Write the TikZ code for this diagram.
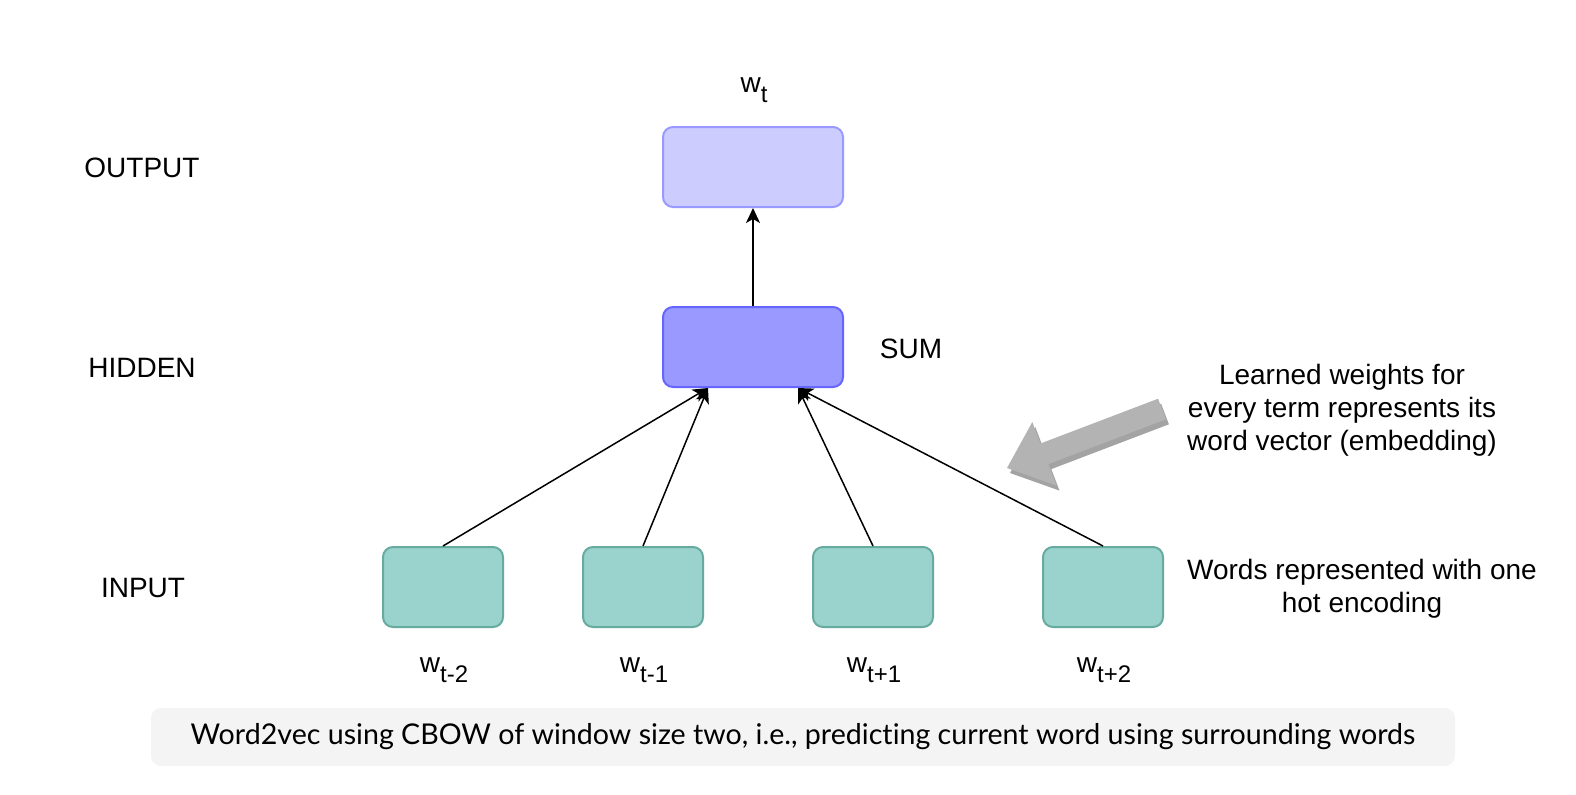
\documentclass[tikz,border=0pt]{standalone}
\usepackage{fontspec}
\setmainfont{Liberation Sans}
\newfontfamily\capfont[Ligatures=NoCommon]{Lato}
\usetikzlibrary{arrows.meta,positioning}
\definecolor{outfill}{HTML}{CCCCFF}
\definecolor{outdraw}{HTML}{9999FF}
\definecolor{hidfill}{HTML}{9999FF}
\definecolor{hiddraw}{HTML}{6666FF}
\definecolor{infill}{HTML}{9AD3CD}
\definecolor{indraw}{HTML}{67AB9F}
\definecolor{bigarrow}{HTML}{B3B3B3}
\definecolor{bigshadow}{HTML}{A3A3A3}
\definecolor{capfill}{HTML}{F4F4F4}
\newcommand{\wsub}[1]{w\raisebox{-5pt}{\fontsize{12}{14}\selectfont #1}}

\begin{document}
\begin{tikzpicture}[x=0.5pt,y=-0.5pt,
    every node/.style={font=\fontsize{14}{16.5}\selectfont},
    layerbox/.style={draw, line width=1pt, rounded corners=5pt, minimum width=90pt, minimum height=40pt},
    wordbox/.style={draw=indraw, fill=infill, line width=1pt, rounded corners=5pt, minimum width=60pt, minimum height=40pt},
    feed/.style={-{Stealth[length=7.5pt,width=7pt,inset=2pt]}, line width=0.75pt}]
    \useasboundingbox (0,0) rectangle (1576,794);
    \node (outlbl) at (142,168) {OUTPUT};
    \node (hidlbl) at (142,368) {HIDDEN};
    \node (inlbl) at (143,588) {INPUT};
    \node[layerbox, draw=outdraw, fill=outfill] (output) at (753,167) {};
    \node[layerbox, draw=hiddraw, fill=hidfill] (hidden) at (753,347) {};
    \node (wt) at (754,90) {\wsub{t}};
    \node (sum) at (911,349) {SUM};
    \node[wordbox] (in1) at (443,587) {};
    \node[wordbox] (in2) at (643,587) {};
    \node[wordbox] (in3) at (873,587) {};
    \node[wordbox] (in4) at (1103,587) {};
    \node (w1) at (444,670) {\wsub{t-2}};
    \node (w2) at (644,670) {\wsub{t-1}};
    \node (w3) at (874,670) {\wsub{t+1}};
    \node (w4) at (1104,670) {\wsub{t+2}};
    \coordinate (hidL) at ([xshift=-22.5pt]hidden.south);
    \coordinate (hidR) at ([xshift=22.5pt]hidden.south);
    \draw[feed] (hidden) -- (output);
    \draw[feed] (in1.north) -- (hidL);
    \draw[feed] (in2.north) -- (hidL);
    \draw[feed] (in3.north) -- (hidR);
    \draw[feed] (in4.north) -- (hidR);
    \begin{scope}[shift={(3,5)}]
        \fill[bigshadow] (1007,468) -- (1032.3,422.0) -- (1040.5,443.5) -- (1158.1,398.7) -- (1165.9,419.3) -- (1048.3,464.1) -- (1056.5,485.6) -- cycle;
    \end{scope}
    \fill[bigarrow] (1007,468) -- (1032.3,422.0) -- (1040.5,443.5) -- (1158.1,398.7) -- (1165.9,419.3) -- (1048.3,464.1) -- (1056.5,485.6) -- cycle;
    \node[align=center] (learned) at (1342,410) {Learned weights for\\every term represents its\\word vector (embedding)};
    \node[align=center] (onehot) at (1362,589) {Words represented with one\\hot encoding};
    \node[fill=capfill, rounded corners=5pt, minimum width=652pt, minimum height=29pt, font=\capfont\fontsize{14.3}{16}\selectfont] (caption) at (803,737) {Word2vec using CBOW of window size two, i.e., predicting current word using surrounding words};
\end{tikzpicture}
\end{document}
